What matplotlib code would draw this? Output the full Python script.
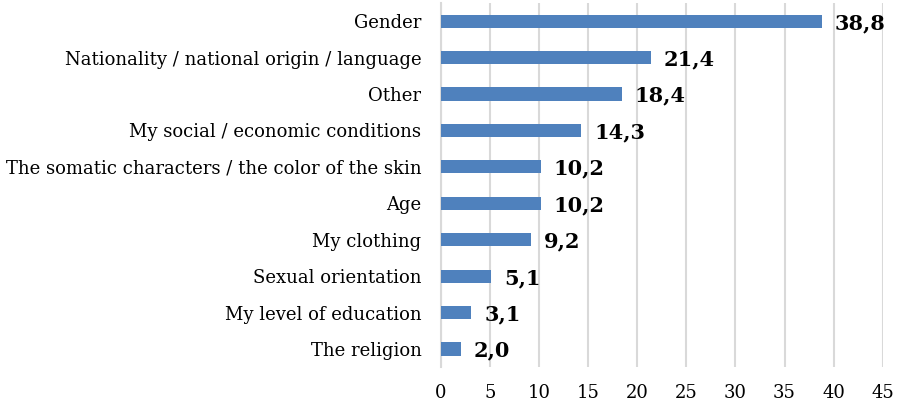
import matplotlib.pyplot as plt
import numpy as np

# Data
categories = ["Gender", "Nationality / national origin / language", "Other",
              "My social / economic conditions",
              "The somatic characters / the color of the skin", "Age",
              "My clothing", "Sexual orientation", "My level of education",
              "The religion"]
values = [38.8, 21.4, 18.4, 14.3, 10.2, 10.2, 9.2, 5.1, 3.1, 2.0]
xticks = [0, 5, 10, 15, 20, 25, 30, 35, 40, 45]

plt.rcParams['font.family'] = ['DejaVu Serif']

fig = plt.figure(figsize=(8.98, 4.07), dpi=100)
ax = fig.add_axes([0.491, 0.0978, 0.492, 0.895])

y = np.arange(len(categories))
ax.barh(y, values, height=0.36, color='#4f81bd', zorder=3)

# value labels, comma as decimal mark
for yi, v in zip(y, values):
    ax.text(v + 1.3, yi + 0.05, f"{v:.1f}".replace('.', ','), va='center', ha='left',
            fontsize=15, fontweight='bold', color='black', zorder=4)

ax.set_yticks(y)
ax.set_yticklabels(categories, fontsize=13)
ax.set_ylim(len(categories) - 0.5, -0.5)
ax.set_xlim(0, 45)
ax.set_xticks(xticks)
ax.set_xticklabels([str(t) for t in xticks], fontsize=13)

ax.grid(axis='x', color='#d9d9d9', linewidth=1.5, zorder=0)
for s in ['top', 'right', 'bottom']:
    ax.spines[s].set_visible(False)
ax.spines['left'].set_color('#d9d9d9')
ax.spines['left'].set_linewidth(1.5)
ax.tick_params(axis='both', length=0)
ax.tick_params(axis='y', pad=14)
ax.tick_params(axis='x', pad=12)

plt.savefig('out.png', dpi=100)
